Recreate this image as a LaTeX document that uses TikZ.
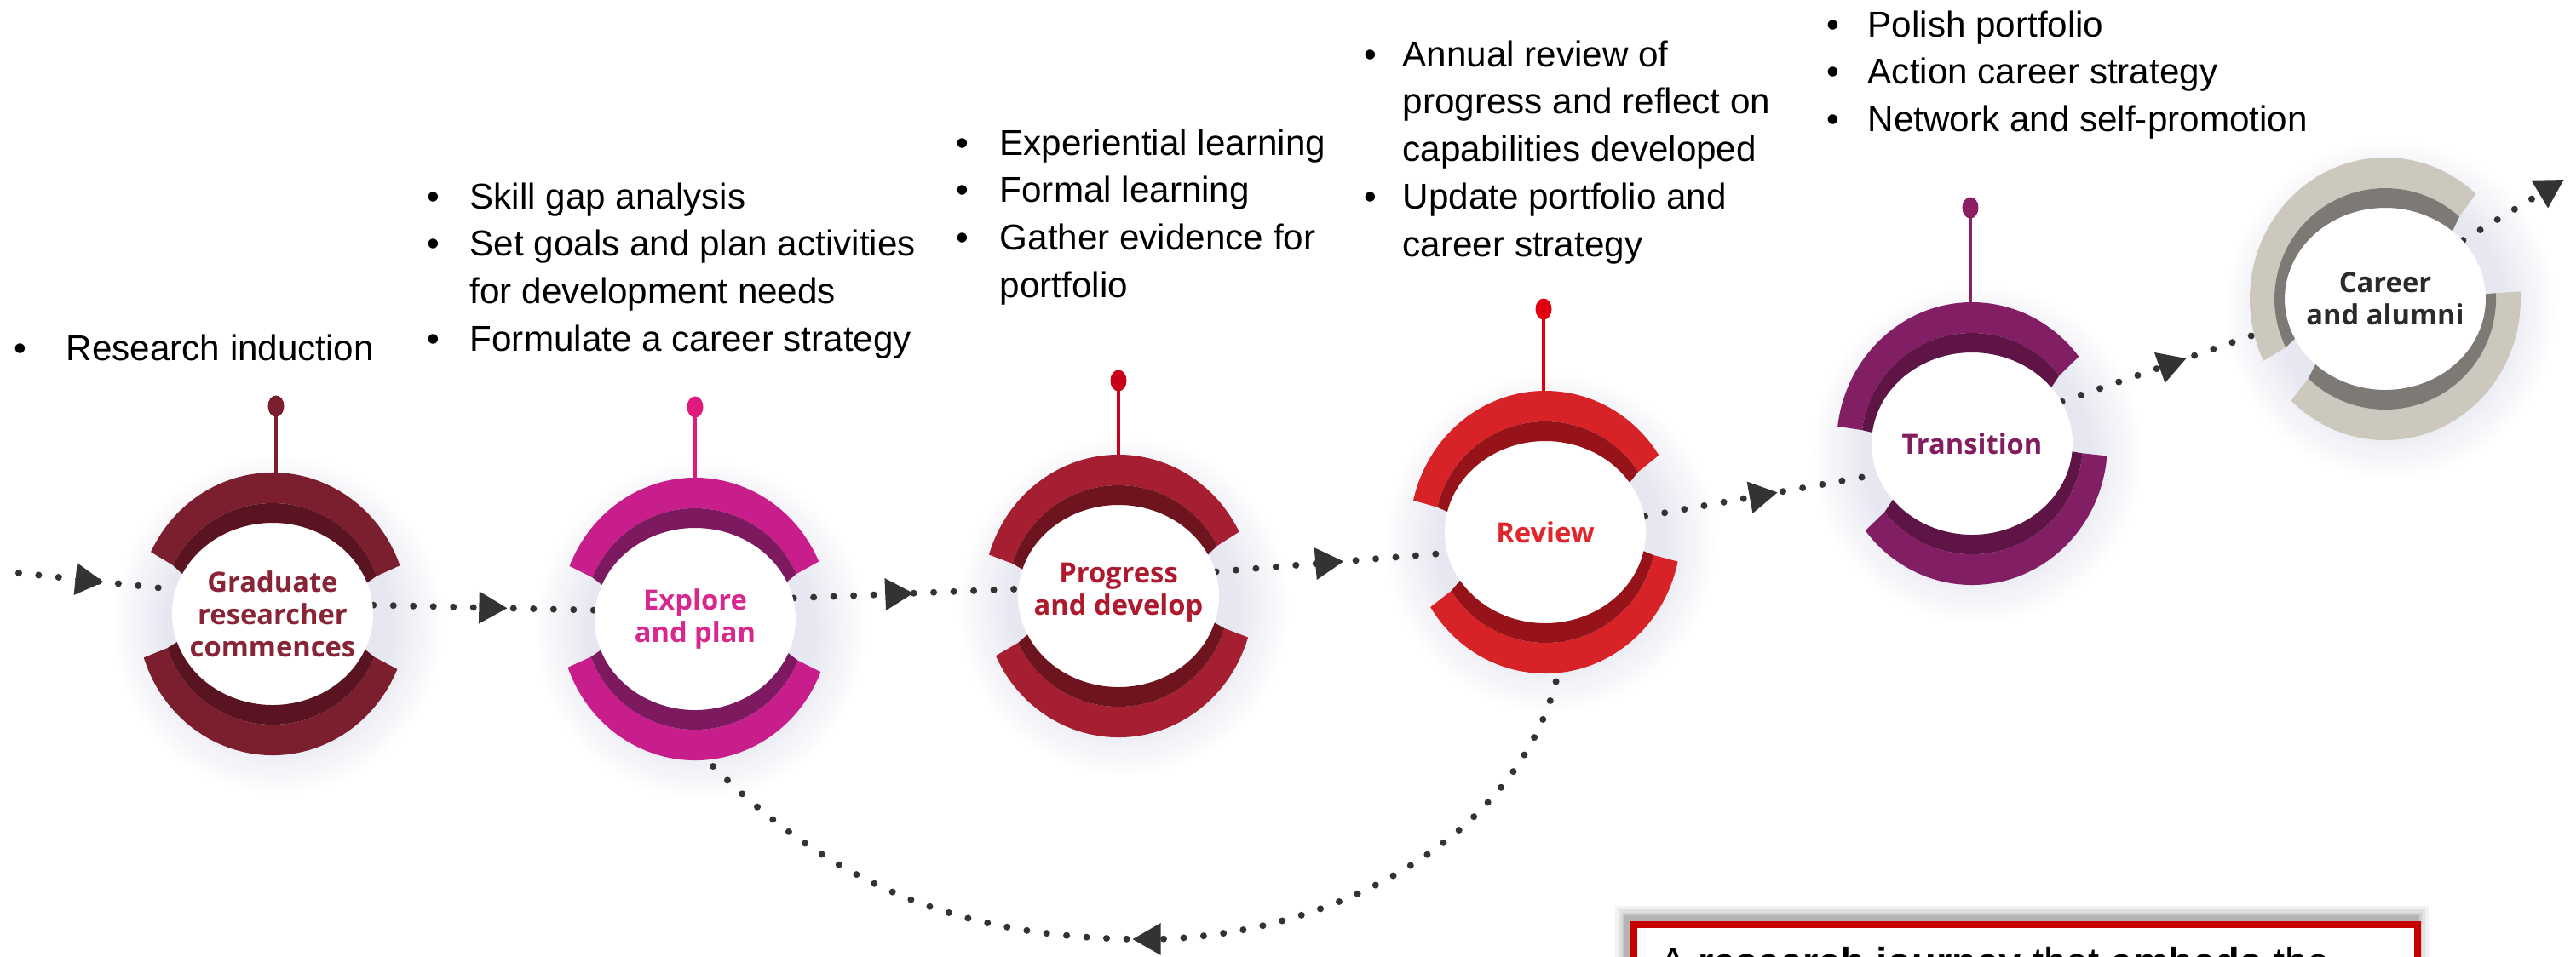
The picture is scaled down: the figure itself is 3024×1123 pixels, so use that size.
\documentclass[tikz,border=0pt]{standalone}
\usepackage{fontspec}
\setmainfont{Liberation Sans}
\newfontfamily\labelfont{Open Sans}
\usetikzlibrary{calc,shapes.geometric,decorations.markings}

\definecolor{cGrad}{HTML}{7B1E2E}
\definecolor{cGradD}{HTML}{5A1320}
\definecolor{cGradT}{HTML}{872435}
\definecolor{cExp}{HTML}{C81E8C}
\definecolor{cExpD}{HTML}{7D195F}
\definecolor{cExpT}{HTML}{D7288F}
\definecolor{cExpP}{HTML}{E0197D}
\definecolor{cProg}{HTML}{A51E32}
\definecolor{cProgD}{HTML}{6E141E}
\definecolor{cProgT}{HTML}{AF192D}
\definecolor{cProgP}{HTML}{C80019}
\definecolor{cRev}{HTML}{D72328}
\definecolor{cRevD}{HTML}{961419}
\definecolor{cRevT}{HTML}{E0262B}
\definecolor{cRevP}{HTML}{E00010}
\definecolor{cTra}{HTML}{821E64}
\definecolor{cTraD}{HTML}{5F1446}
\definecolor{cTraT}{HTML}{821E5F}
\definecolor{cTraP}{HTML}{8C1E64}
\definecolor{cCar}{HTML}{CDC8BE}
\definecolor{cCarD}{HTML}{7D7A76}
\definecolor{cCarT}{HTML}{2A2A2A}
\definecolor{dotc}{HTML}{333333}
\definecolor{halo}{HTML}{E7E7F1}
\definecolor{boxred}{HTML}{C80000}

\pgfdeclareradialshading{haloshade}{\pgfpoint{0bp}{0bp}}{color(0bp)=(halo); color(17bp)=(halo); color(25bp)=(white); color(50bp)=(white)}

\pgfdeclarelayer{glow}
\pgfdeclarelayer{conn}
\pgfdeclarelayer{ring}
\pgfsetlayers{glow,conn,ring,main}

% #1 centre node, #2 start angle, #3 end angle (visual, degrees), #4 outer colour, #5 inner colour
\newcommand\ringseg[5]{%
  \fill[#4] ($(#1.center)+(-#2:159 and 166)$) arc[start angle=-#2, end angle=-#3, x radius=159, y radius=166]
     -- ($(#1.center)+(-#3:130 and 130)$) arc[start angle=-#3, end angle=-#2, x radius=130, y radius=130] -- cycle;
  \fill[#5] ($(#1.center)+(-#2:130 and 130)$) arc[start angle=-#2, end angle=-#3, x radius=130, y radius=130]
     -- ($(#1.center)+(-#3:118 and 107)$) arc[start angle=-#3, end angle=-#2, x radius=118, y radius=107] -- cycle;
}

\tikzset{
  stagedisk/.style={ellipse, minimum width=2.36cm, minimum height=2.14cm, inner sep=0pt},
  stagelabel/.style={inner sep=0pt, align=center, font=\labelfont\bfseries\fontsize{9.3}{10.8}\selectfont},
  pindot/.style={ellipse, minimum width=0.19cm, minimum height=0.25cm, inner sep=0pt},
  pinline/.style={line width=0.035cm},
  dotline/.style={draw=dotc, line width=0.08cm, line cap=round, dash pattern=on 0pt off 0.235cm},
  midarrow/.style={postaction={decorate, decoration={markings,
      mark=at position #1 with {\fill[dotc] (0.17cm,0cm) -- (-0.16cm,0.19cm) -- (-0.16cm,-0.19cm) -- cycle;}}}},
  endarrow/.style={postaction={decorate, decoration={markings,
      mark=at position 0.999 with {\fill[dotc] (0.02cm,0cm) -- (-0.31cm,0.19cm) -- (-0.31cm,-0.19cm) -- cycle;}}}},
  bullets/.style={anchor=base west, inner sep=0pt, font=\fontsize{12}{15.9}\selectfont},
}

\begin{document}
\begin{tikzpicture}[x=0.01cm, y=-0.01cm]
\useasboundingbox (0,0) rectangle (3024,1123);

% ---------- stage nodes (disks) ----------
\node[stagedisk] (c1) at (320,721) {};
\node[stagedisk] (c2) at (816,727) {};
\node[stagedisk] (c3) at (1313,700) {};
\node[stagedisk] (c4) at (1814,625) {};
\node[stagedisk] (c5) at (2315,521) {};
\node[stagedisk] (c6) at (2800,351) {};

% ---------- labels ----------
\node[stagelabel, text=cGradT] (l1) at (c1.center) {Graduate\\researcher\\commences};
\node[stagelabel, text=cExpT] (l2) at (c2.center) {Explore\\and plan};
\node[stagelabel, text=cProgT] (l3) at ([yshift=0.04cm]c3.center) {Progress\\and develop};
\node[stagelabel, text=cRevT] (l4) at (c4.center) {Review};
\node[stagelabel, text=cTraT] (l5) at (c5.center) {Transition};
\node[stagelabel, text=cCarT] (l6) at (c6.center) {Career\\and alumni};

% ---------- bullet lists ----------
\node[bullets] (tA) at (16,423) {\makebox[0.61cm][l]{•}Research induction};
\node[bullets] (tB) at (501,245) {\begin{tabular}[t]{@{}l@{}}
\makebox[0.50cm][l]{•}Skill gap analysis\\
\makebox[0.50cm][l]{•}Set goals and plan activities\\
\hspace*{0.50cm}for development needs\\
\makebox[0.50cm][l]{•}Formulate a career strategy
\end{tabular}};
\node[bullets] (tC) at (1122,182) {\begin{tabular}[t]{@{}l@{}}
\makebox[0.51cm][l]{•}Experiential learning\\
\makebox[0.51cm][l]{•}Formal learning\\
\makebox[0.51cm][l]{•}Gather evidence for\\
\hspace*{0.51cm}portfolio
\end{tabular}};
\node[bullets] (tD) at (1601,78) {\begin{tabular}[t]{@{}l@{}}
\makebox[0.45cm][l]{•}Annual review of\\
\hspace*{0.45cm}progress and reflect on\\
\hspace*{0.45cm}capabilities developed\\
\makebox[0.45cm][l]{•}Update portfolio and\\
\hspace*{0.45cm}career strategy
\end{tabular}};
\node[bullets] (tE) at (2144,43) {\begin{tabular}[t]{@{}l@{}}
\makebox[0.48cm][l]{•}Polish portfolio\\
\makebox[0.48cm][l]{•}Action career strategy\\
\makebox[0.48cm][l]{•}Network and self-promotion
\end{tabular}};

% ---------- bottom right box ----------
\foreach \d/\o in {14/0.05, 10/0.07, 6/0.09, 3/0.12}
  \fill[black, opacity=\o] (1910-\d,1078-\d) rectangle (2837+\d,1200);
\node[draw=boxred, line width=0.08cm, fill=white, minimum width=9.19cm, minimum height=1.5cm,
      anchor=north west, inner sep=0pt] (box) at (1914,1082) {};
\node[anchor=base west, inner sep=0pt, font=\fontsize{13.4}{16}\selectfont] (boxtext) at (1948,1146)
  {A \textbf{research journey} that \textbf{embeds} the};

% ---------- rings ----------
\begin{pgfonlayer}{ring}
\fill[white] (c1.center) ellipse[x radius=118, y radius=107];
\fill[white] (c2.center) ellipse[x radius=118, y radius=107];
\fill[white] (c3.center) ellipse[x radius=118, y radius=107];
\fill[white] (c4.center) ellipse[x radius=118, y radius=107];
\fill[white] (c5.center) ellipse[x radius=118, y radius=107];
\fill[white] (c6.center) ellipse[x radius=118, y radius=107];
\ringseg{c1}{20}{154}{cGrad}{cGradD}
\ringseg{c1}{198}{337}{cGrad}{cGradD}
\ringseg{c2}{24}{158}{cExp}{cExpD}
\ringseg{c2}{200}{338}{cExp}{cExpD}
\ringseg{c3}{27}{163}{cProg}{cProgD}
\ringseg{c3}{205}{343}{cProg}{cProgD}
\ringseg{c4}{33}{167}{cRev}{cRevD}
\ringseg{c4}{212}{348}{cRev}{cRevD}
\ringseg{c5}{38}{173}{cTra}{cTraD}
\ringseg{c5}{218}{355}{cTra}{cTraD}
\ringseg{c6}{48}{206}{cCar}{cCarD}
\ringseg{c6}{226}{363}{cCar}{cCarD}
\end{pgfonlayer}

% ---------- connectors and pins ----------
\begin{pgfonlayer}{conn}
\coordinate (start) at (22,673);
\draw[dotline, midarrow=0.45] (start) -- (c1.166);
\draw[dotline, midarrow=0.54] (c1.5) -- (c2.175);
\draw[dotline, midarrow=0.47] (c2.12) -- (c3.176);
\draw[dotline, midarrow=0.49] (c3.14) -- (c4.192);
\draw[dotline, midarrow=0.51] (c4.9) -- (c5.198);
\draw[dotline, midarrow=0.49] (c5.25) -- (c6.194);
\coordinate (outend) at (3008,212);
\draw[dotline, endarrow] (c6.37) -- (outend);
\coordinate (loopbot) at (1346,1103);
\draw[dotline, midarrow=0.999] (c4.-78) .. controls (1830,960) and (1580,1103) .. (loopbot);
\draw[dotline] (loopbot) .. controls (1110,1103) and (940,1030) .. (c2.-115);

\node[pindot, fill=cGrad] (p1) at (324,477) {};
\node[pindot, fill=cExpP] (p2) at (816,478) {};
\node[pindot, fill=cProgP] (p3) at (1313,447) {};
\node[pindot, fill=cRevP] (p4) at (1812,363) {};
\node[pindot, fill=cTraP] (p5) at (2313,244) {};
\draw[pinline, cGrad] (p1.center) -- (p1.center |- {$(c1.center)+(0,-150)$});
\draw[pinline, cExpP] (p2.center) -- (p2.center |- {$(c2.center)+(0,-150)$});
\draw[pinline, cProgP] (p3.center) -- (p3.center |- {$(c3.center)+(0,-150)$});
\draw[pinline, cRevP] (p4.center) -- (p4.center |- {$(c4.center)+(0,-150)$});
\draw[pinline, cTraP] (p5.center) -- (p5.center |- {$(c5.center)+(0,-150)$});
\end{pgfonlayer}

% ---------- soft halos ----------
\begin{pgfonlayer}{glow}
\shade[shading=haloshade] ($(c1.center)+(6,12)$) ellipse[x radius=195, y radius=200];
\shade[shading=haloshade] ($(c2.center)+(6,12)$) ellipse[x radius=195, y radius=200];
\shade[shading=haloshade] ($(c3.center)+(6,12)$) ellipse[x radius=195, y radius=200];
\shade[shading=haloshade] ($(c4.center)+(6,12)$) ellipse[x radius=195, y radius=200];
\shade[shading=haloshade] ($(c5.center)+(6,12)$) ellipse[x radius=195, y radius=200];
\shade[shading=haloshade] ($(c6.center)+(6,12)$) ellipse[x radius=195, y radius=200];
\end{pgfonlayer}
\end{tikzpicture}
\end{document}
